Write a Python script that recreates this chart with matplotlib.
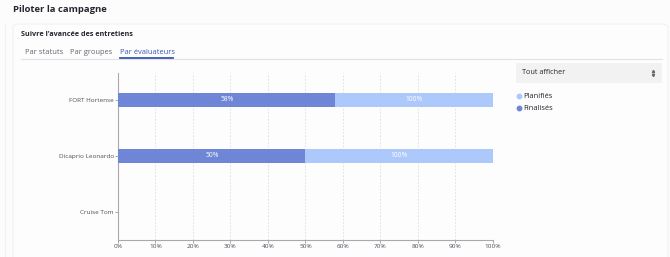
import matplotlib
matplotlib.use("Agg")
import matplotlib.pyplot as plt
from matplotlib.patches import FancyBboxPatch
from matplotlib.lines import Line2D

# data
evaluateurs = ["FORT Hortense", "Dicaprio Leonardo", "Cruise Tom"]
finalises = [58, 50, 0]
planifies = [100, 100, 0]
xticks = [0, 10, 20, 30, 40, 50, 60, 70, 80, 90, 100]
tabs = ["Par statuts", "Par groupes", "Par évaluateurs"]

col_fin = "#6f86d6"
col_plan = "#adc9fb"

W, H = 670, 257
plt.rcParams['font.family'] = ['Open Sans', 'DejaVu Sans']

fig = plt.figure(figsize=(W / 100, H / 100), dpi=100)
fig.patch.set_facecolor("#fcfcfd")

def fx(x):
    return x / W

def fy(y):
    return 1 - y / H

## outer strip + card
fig.lines.append(Line2D([fx(5), fx(5)], [fy(24), 0], transform=fig.transFigure,
                        color="#f2f2f4", linewidth=0.8))
fig.patches.append(FancyBboxPatch((fx(13), fy(262)), fx(655), (262 - 24) / H,
                                  boxstyle="round,pad=0,rounding_size=0.012",
                                  transform=fig.transFigure, facecolor="#fdfdfe",
                                  edgecolor="#f2f2f4", linewidth=0.8, zorder=-5))

fig.text(fx(13), fy(10), "Piloter la campagne", fontsize=6.8, fontweight="bold",
         color="#26262e", va="center", ha="left")
fig.text(fx(21), fy(35), "Suivre l'avancée des entretiens", fontsize=5.2,
         fontweight="bold", color="#26262e", va="center", ha="left")

tab_x = [25, 70, 120]
for t, x in zip(tabs, tab_x):
    c = "#3a56b0" if t == tabs[-1] else "#66666e"
    fig.text(fx(x), fy(52), t, fontsize=5.4, color=c, va="center", ha="left")
fig.lines.append(Line2D([fx(21), fx(662)], [fy(59), fy(59)], transform=fig.transFigure,
                        color="#e2e2e6", linewidth=0.8))
fig.lines.append(Line2D([fx(120), fx(173)], [fy(57.5), fy(57.5)], transform=fig.transFigure,
                        color="#3a56b0", linewidth=1.3))

## dropdown
fig.patches.append(FancyBboxPatch((fx(516), fy(83)), fx(146), 20 / H,
                                  boxstyle="round,pad=0,rounding_size=0.004",
                                  transform=fig.transFigure, facecolor="#f2f2f3",
                                  edgecolor="none"))
fig.text(fx(522), fy(73), "Tout afficher", fontsize=5.2, color="#26262e",
         va="center", ha="left")
for dy, m in [(-1.6, "^"), (1.6, "v")]:
    fig.lines.append(Line2D([fx(653)], [fy(73 + dy)], transform=fig.transFigure,
                            marker=m, markersize=1.6, color="#666", linestyle="none"))

## legend
for y, lab, c in [(96, "Planifiés", col_plan), (108, "Finalisés", col_fin)]:
    fig.lines.append(Line2D([fx(519)], [fy(y)], transform=fig.transFigure,
                            marker="o", markersize=3.2, color=c, linestyle="none"))
    fig.text(fx(523), fy(y), lab, fontsize=5.4, color="#26262e", va="center", ha="left")

## chart
ax = fig.add_axes([fx(118), fy(239.5), fx(375), (239.5 - 73) / H])
ax.set_zorder(5)
ax.set_facecolor("none")
ypos = list(range(len(evaluateurs)))
ax.barh(ypos, planifies, height=0.25, color=col_plan, zorder=2)
ax.barh(ypos, finalises, height=0.25, color=col_fin, zorder=3)

for i in ypos:
    if finalises[i] > 0:
        ax.text(finalises[i] / 2, i, f"{finalises[i]}%", color="white", fontsize=4.8,
                ha="center", va="center", zorder=4)
    if planifies[i] > 0:
        ax.text((finalises[i] + planifies[i]) / 2, i, f"{planifies[i]}%", color="white",
                fontsize=4.8, ha="center", va="center", zorder=4)

ax.set_xlim(0, 100)
ax.set_ylim(2.5, -0.48)
ax.set_xticks(xticks)
ax.set_xticklabels([f"{v}%" for v in xticks])
ax.set_yticks(ypos)
ax.set_yticklabels(evaluateurs)
ax.tick_params(axis="both", labelsize=4.6, colors="#9a9aa0", labelcolor="#4f4f57",
               length=2, width=0.6, pad=1)
ax.grid(axis="x", linestyle=(0, (2, 2)), color="#dcdce0", linewidth=0.6, zorder=0)
for s in ["top", "right"]:
    ax.spines[s].set_visible(False)
for s in ["left", "bottom"]:
    ax.spines[s].set_color("#a8a8ae")
    ax.spines[s].set_linewidth(0.8)

fig.savefig("out.png", dpi=100, facecolor=fig.get_facecolor())
